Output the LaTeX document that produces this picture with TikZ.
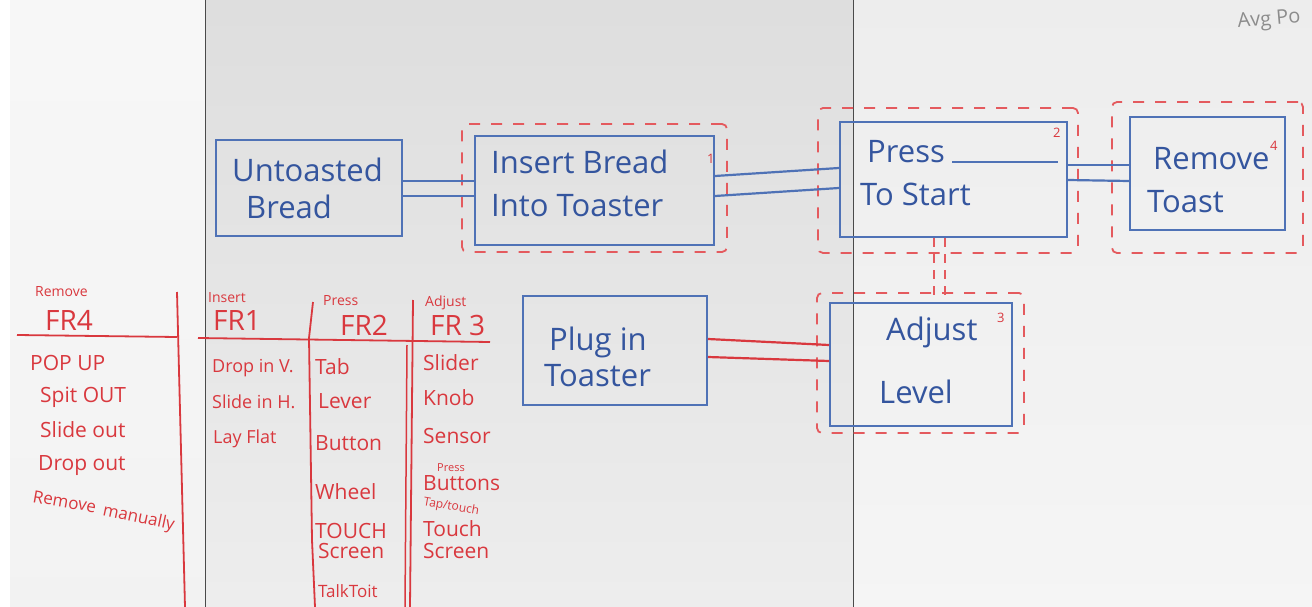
\documentclass[tikz,border=0pt]{standalone}
\usepackage{fontspec}
\setmainfont{Open Sans}
\usetikzlibrary{calc}
\definecolor{bluem}{HTML}{4F72B6}
\definecolor{bluet}{HTML}{34559E}
\definecolor{redm}{HTML}{D9383E}
\definecolor{redd}{HTML}{E45A5E}
\definecolor{seam}{HTML}{4A4A4A}
\newcommand\hw[1]{\fontsize{#1}{#1}\selectfont}
\begin{document}
\begin{tikzpicture}[x=1pt,y=-1pt,
  bbox/.style={draw=bluem,line width=2pt,inner sep=0pt},
  bl/.style={draw=bluem,line width=2.2pt},
  rl/.style={draw=redm,line width=2.2pt},
  rdash/.style={draw=redd,line width=1.8pt,dash pattern=on 11pt off 11pt,rounded corners=5pt},
  rvd/.style={draw=redd,line width=1.8pt,dash pattern=on 9pt off 7pt},
  btxt/.style={text=bluet,font=\hw{31},anchor=base west,inner sep=0pt},
  rtxt/.style={text=redm,font=\hw{21},anchor=base west,inner sep=0pt},
  rsm/.style={text=redm,font=\hw{14},anchor=base west,inner sep=0pt},
  rhd/.style={text=redm,font=\hw{28},anchor=base west,inner sep=0pt},
  num/.style={text=redm,font=\hw{13},anchor=base west,inner sep=0pt}]
\useasboundingbox (0,0) rectangle (1312,607);
% background
\fill[white] (0,0) rectangle (1312,607);
\shade[top color=black!3,bottom color=black!5] (10,0) rectangle (205,607);
\shade[top color=black!13,bottom color=black!7] (205,0) rectangle (853,607);
\shade[top color=black!7,bottom color=black!4] (853,0) rectangle (1312,607);
\draw[seam,line width=1pt] (205,0) -- (205,607);
\draw[seam,line width=1pt] (853,0) -- (853,607);
\node[text=black!45,font=\hw{20},anchor=base west,inner sep=0pt,rotate=5] (avg) at (1238,28) {Avg Po};

% blue boxes
\node[bbox,minimum width=186pt,minimum height=96pt] (ut) at (309,188) {};
\node[bbox,minimum width=239pt,minimum height=109pt] (ib) at (594.5,190.5) {};
\node[bbox,minimum width=227pt,minimum height=115pt] (ps) at (953.5,179.5) {};
\node[bbox,minimum width=155pt,minimum height=113pt] (rt) at (1207.5,173.5) {};
\node[bbox,minimum width=184pt,minimum height=109pt] (pl) at (615,350.5) {};
\node[bbox,minimum width=182pt,minimum height=123pt] (al) at (921,364.5) {};

% red dashed groups
\node[rdash,minimum width=265pt,minimum height=128pt] (id) at (594.5,188) {};
\node[rdash,minimum width=260pt,minimum height=145pt] (pd) at (948,180.5) {};
\node[rdash,minimum width=191pt,minimum height=151pt] (rd) at (1207.5,177.5) {};
\node[rdash,minimum width=207pt,minimum height=140pt] (ad) at (920.5,363) {};

% box texts
\node[btxt] (ut1) at (232,182) {Untoasted};
\node[btxt] (ut2) at (246,218) {Bread};
\node[btxt] (ib1) at (491,173) {Insert Bread};
\node[btxt] (ib2) at (491,216) {Into Toaster};
\node[btxt] (ps1) at (867,163) {Press};
\draw[bl] (952,162) -- (1058,162);
\node[btxt] (ps2) at (860,205) {To Start};
\node[btxt] (rt1) at (1153,170) {Remove};
\node[btxt] (rt2) at (1147,212) {Toast};
\node[btxt] (pl1) at (549,350) {Plug in};
\node[btxt] (pl2) at (544,386) {Toaster};
\node[btxt] (al1) at (886,340) {Adjust};
\node[btxt] (al2) at (879,403) {Level};
\node[num] (n1) at (707,164) {1};
\node[num] (n2) at (1053,138) {2};
\node[num] (n4) at (1270,150) {4};
\node[num] (n3) at (997,322) {3};

% connectors
\draw[bl] ([yshift=7pt]ut.east) -- ([yshift=9.5pt]ib.west);
\draw[bl] ([yshift=-8pt]ut.east) -- ([yshift=-5.5pt]ib.west);
\draw[bl] ([yshift=14.5pt]ib.east) -- ([yshift=11.5pt]ps.west);
\draw[bl] ([yshift=-5.5pt]ib.east) -- ([yshift=-8.5pt]ps.west);
\draw[bl] ([yshift=14.5pt]ps.east) -- ([yshift=8.5pt]rt.west);
\draw[bl] ([yshift=-0.5pt]ps.east) -- ([yshift=-7.5pt]rt.west);
\draw[rl] ([yshift=11.5pt]pl.east) -- ([yshift=19.5pt]al.west);
\draw[rl] ([yshift=-6.5pt]pl.east) -- ([yshift=3.5pt]al.west);
\draw[rvd] ([xshift=-19.5pt]ps.south) -- ([xshift=13pt]al.north);
\draw[rvd] ([xshift=-8.5pt]ps.south) -- ([xshift=24pt]al.north);

% red table lines
\draw[rl,line width=1.8pt] (17,335) -- (177,337);
\draw[rl,line width=1.8pt] (177,292) -- (185,607);
\draw[rl,line width=1.8pt] (198,338) -- (490,342);
\draw[rl,line width=1.8pt] (313,302) -- (309,338) -- (312,540) -- (315,607);
\draw[rl,line width=1.8pt] (413,300) -- (410,607);
\draw[rl,line width=1.5pt] (407,345) -- (405,607);

% FR4 column
\node[rsm] (h4a) at (35,296) {Remove};
\node[rhd] (h4) at (45,330) {FR4};
\node[rtxt] (a1) at (30,370) {POP UP};
\node[rtxt] (a2) at (40,402) {Spit OUT};
\node[rtxt] (a3) at (40,437) {Slide out};
\node[rtxt] (a4) at (38,470) {Drop out};
\node[rtxt,font=\hw{17},rotate=-10] (a5) at (32,502) {Remove};
\node[rtxt,font=\hw{17},rotate=-12] (a6) at (102,515) {manually};

% FR1 column
\node[rsm] (h1a) at (208,302) {Insert};
\node[rhd] (h1) at (213,330) {FR1};
\node[rtxt,font=\hw{18}] (b1) at (212,372) {Drop in V.};
\node[rtxt,font=\hw{18}] (b2) at (212,408) {Slide in H.};
\node[rtxt,font=\hw{18}] (b3) at (213,443) {Lay Flat};

% FR2 column
\node[rsm] (h2a) at (323,305) {Press};
\node[rhd] (h2) at (340,335) {FR2};
\node[rtxt] (c1) at (315,374) {Tab};
\node[rtxt] (c2) at (318,408) {Lever};
\node[rtxt] (c3) at (315,450) {Button};
\node[rtxt] (c4) at (315,499) {Wheel};
\node[rtxt] (c5) at (315,538) {TOUCH};
\node[rtxt] (c6) at (318,558) {Screen};
\node[rtxt,font=\hw{17}] (c7) at (318,597) {TalkToit};

% FR3 column
\node[rsm] (h3a) at (425,306) {Adjust};
\node[rhd] (h3) at (430,335) {FR 3};
\node[rtxt] (d1) at (423,370) {Slider};
\node[rtxt] (d2) at (423,405) {Knob};
\node[rtxt] (d3) at (423,443) {Sensor};
\node[rsm,font=\hw{11}] (d4a) at (437,471) {Press};
\node[rtxt] (d4) at (423,490) {Buttons};
\node[rsm,font=\hw{12},rotate=-10] (d4b) at (423,505) {Tap/touch};
\node[rtxt] (d5) at (423,536) {Touch};
\node[rtxt] (d6) at (423,558) {Screen};
\end{tikzpicture}
\end{document}
